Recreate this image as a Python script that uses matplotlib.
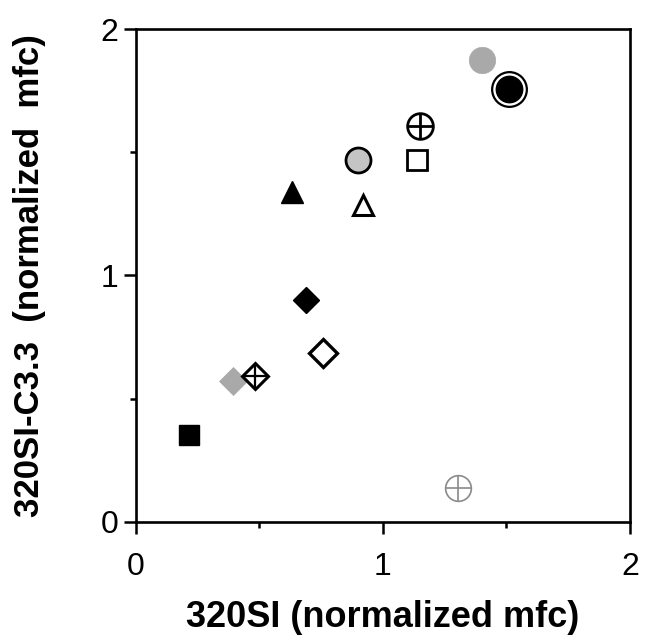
import matplotlib
matplotlib.use("Agg")
import matplotlib.pyplot as plt
from matplotlib.ticker import MultipleLocator

plt.rcParams["font.family"] = ["Liberation Sans", "DejaVu Sans"]

# Data (normalized mfc)
labels = ["sq_black", "dia_gray", "dia_cross", "dia_open", "dia_black",
          "tri_black", "tri_open", "circ_gray", "sq_open", "circ_cross",
          "circ_stipple", "circ_big", "circ_cross_gray"]
x_320SI = [0.218, 0.394, 0.483, 0.758, 0.690,
           0.633, 0.920, 0.900, 1.138, 1.151,
           1.401, 1.510, 1.304]
y_C33 = [0.352, 0.570, 0.591, 0.685, 0.900,
         1.338, 1.285, 1.468, 1.468, 1.606,
         1.875, 1.758, 0.137]

xticks = [0, 1, 2]
yticks = [0, 1, 2]
xlabel = "320SI (normalized mfc)"
ylabel = "320SI-C3.3  (normalized  mfc)"

# Styles
styles = {
    "sq_black": [dict(marker="s", ms=15, mfc="black", mec="black", mew=1)],
    "dia_gray": [dict(marker="D", ms=14, mfc="#a9a9a9", mec="#a9a9a9", mew=0.5)],
    "dia_cross": [dict(marker="D", ms=13, mfc="white", mec="black", mew=2.2),
                  dict(marker="+", ms=18, mfc="none", mec="black", mew=1.6)],
    "dia_open": [dict(marker="D", ms=14.5, mfc="white", mec="black", mew=2.4)],
    "dia_black": [dict(marker="D", ms=13.5, mfc="black", mec="black", mew=1)],
    "tri_black": [dict(marker="^", ms=16, mfc="black", mec="black", mew=1)],
    "tri_open": [dict(marker="^", ms=15, mfc="white", mec="black", mew=2.2)],
    "circ_gray": [dict(marker="o", ms=18, mfc="#c4c4c4", mec="black", mew=2)],
    "sq_open": [dict(marker="s", ms=15, mfc="white", mec="black", mew=2)],
    "circ_cross": [dict(marker="o", ms=18.5, mfc="white", mec="black", mew=2),
                   dict(marker="+", ms=18.5, mfc="none", mec="black", mew=2)],
    "circ_stipple": [dict(marker="o", ms=19, mfc="#a9a9a9", mec="#a9a9a9", mew=0.5)],
    "circ_big": [dict(marker="o", ms=25, mfc="white", mec="black", mew=1.6),
                 dict(marker="o", ms=19, mfc="black", mec="black", mew=1)],
    "circ_cross_gray": [dict(marker="o", ms=18.5, mfc="white", mec="#8a8a8a", mew=1.2),
                        dict(marker="+", ms=18.5, mfc="none", mec="#8a8a8a", mew=1.2)],
}

fig = plt.figure(figsize=(6.49, 6.42), dpi=100)
ax = fig.add_axes([0.2088, 0.1874, 0.7619, 0.7674])

for name, xv, yv in zip(labels, x_320SI, y_C33):
    for st in styles[name]:
        ax.plot([xv], [yv], linestyle="none", zorder=3, clip_on=False, **st)

ax.set_xlim(0, 2)
ax.set_ylim(0, 2)
ax.xaxis.set_minor_locator(MultipleLocator(0.5))
ax.yaxis.set_minor_locator(MultipleLocator(0.5))
ax.set_xticks(xticks)
ax.set_yticks(yticks)
ax.set_xticklabels([str(t) for t in xticks], fontsize=23)
ax.set_yticklabels([str(t) for t in yticks], fontsize=23)

for sp in ax.spines.values():
    sp.set_linewidth(1.9)
    sp.set_color("black")

ax.tick_params(axis="both", which="major", direction="out", length=8.5, width=1.8)
ax.tick_params(axis="both", which="minor", direction="out", length=4.3, width=1.8)
ax.tick_params(axis="x", which="major", pad=13)
ax.tick_params(axis="y", which="major", pad=4)

ax.set_xlabel(xlabel, fontsize=26, fontweight="bold")
ax.set_ylabel(ylabel, fontsize=25, fontweight="bold")
ax.xaxis.set_label_coords(0.5, -0.158)
ax.yaxis.set_label_coords(-0.181, 0.5)

fig.savefig("out.png", dpi=100)
